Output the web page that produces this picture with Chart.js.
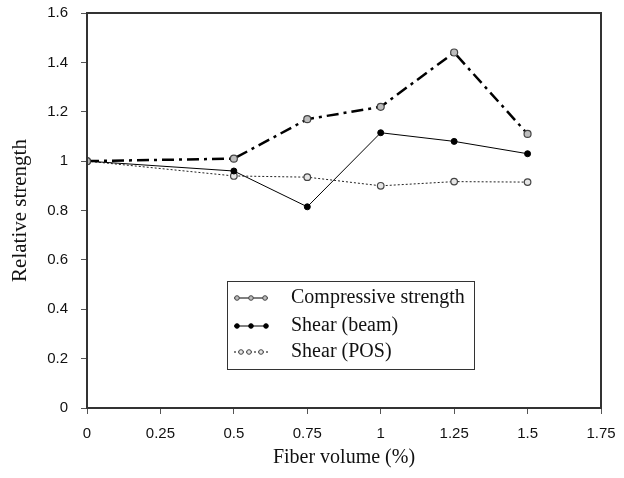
<!DOCTYPE html>
<html>
<head>
<meta charset="utf-8">
<script src="https://cdn.jsdelivr.net/npm/chart.js@4.4.1/dist/chart.umd.min.js"></script>
<style>
  html, body { margin: 0; padding: 0; background: #fff; }
  #wrap { width: 624px; height: 478px; }
</style>
</head>
<body>
<div id="wrap"><canvas id="strengthChart" width="624" height="478"></canvas></div>
<script>
const fiberVolume = [0, 0.5, 0.75, 1, 1.25, 1.5];
const compressive = [1.0, 1.01, 1.17, 1.22, 1.44, 1.11];
const shearBeam = [1.0, 0.96, 0.815, 1.115, 1.08, 1.03];
const shearPOS = [1.0, 0.94, 0.935, 0.90, 0.917, 0.915];
const xTicks = [0, 0.25, 0.5, 0.75, 1, 1.25, 1.5, 1.75];

const toPoints = values => fiberVolume.map((x, i) => ({ x, y: values[i] }));

const seriesStyles = [
  { label: "Compressive strength", data: compressive, borderColor: "#000", borderWidth: 2.5, borderDash: [12, 5, 3, 5],
    pointRadius: 3.5, pointBackgroundColor: "#bdbdbd", pointBorderColor: "#444", pointBorderWidth: 1.2 },
  { label: "Shear (beam)", data: shearBeam, borderColor: "#000", borderWidth: 1, borderDash: [],
    pointRadius: 3, pointBackgroundColor: "#000", pointBorderColor: "#000", pointBorderWidth: 1 },
  { label: "Shear (POS)", data: shearPOS, borderColor: "#222", borderWidth: 1, borderDash: [2, 2],
    pointRadius: 3.3, pointBackgroundColor: "#e6e6e6", pointBorderColor: "#444", pointBorderWidth: 1.2 }
];

// box around plot + legend drawn inside the plot area
const framePlugin = {
  id: "frame",
  afterDraw(chart) {
    const { ctx, chartArea: a } = chart;
    ctx.save();
    ctx.strokeStyle = "#333";
    ctx.lineWidth = 2;
    ctx.strokeRect(a.left, a.top, a.right - a.left, a.bottom - a.top);

    // legend
    const box = { x: 227, y: 281, w: 247, h: 88 };
    ctx.fillStyle = "#fff";
    ctx.fillRect(box.x, box.y, box.w, box.h);
    ctx.strokeStyle = "#333";
    ctx.lineWidth = 1;
    ctx.strokeRect(box.x + 0.5, box.y + 0.5, box.w, box.h);

    const rows = [298, 326, 352];
    const markerX = [[237, 251, 265], [237, 251, 266], [241, 249, 261]];
    seriesStyles.forEach((s, i) => {
      const y = rows[i];
      ctx.beginPath();
      ctx.setLineDash(i === 2 ? [2, 2] : []);
      ctx.strokeStyle = "#000";
      ctx.lineWidth = 1;
      ctx.moveTo(234, y);
      ctx.lineTo(268, y);
      ctx.stroke();
      ctx.setLineDash([]);
      markerX[i].forEach(px => {
        ctx.beginPath();
        ctx.arc(px, y, 2.3, 0, Math.PI * 2);
        ctx.fillStyle = s.pointBackgroundColor;
        ctx.fill();
        ctx.strokeStyle = s.pointBorderColor;
        ctx.stroke();
      });
      ctx.fillStyle = "#111";
      ctx.font = "20px 'Liberation Serif', 'Times New Roman', serif";
      ctx.textBaseline = "middle";
      ctx.fillText(s.label, 291, y);
    });
    ctx.restore();
  }
};

const ctx = document.getElementById("strengthChart").getContext("2d");
new Chart(ctx, {
  type: "line",
  data: {
    datasets: seriesStyles.map(s => ({
      label: s.label,
      data: toPoints(s.data),
      borderColor: s.borderColor,
      borderWidth: s.borderWidth,
      borderDash: s.borderDash,
      pointRadius: s.pointRadius,
      pointBackgroundColor: s.pointBackgroundColor,
      pointBorderColor: s.pointBorderColor,
      pointBorderWidth: s.pointBorderWidth,
      fill: false,
      tension: 0
    }))
  },
  options: {
    responsive: false,
    animation: false,
    layout: { padding: { top: 13, right: 23, left: 0, bottom: 0 } },
    plugins: {
      legend: { display: false },
      tooltip: { enabled: false }
    },
    scales: {
      x: {
        type: "linear",
        min: 0,
        max: 1.75,
        afterBuildTicks: scale => { scale.ticks = xTicks.map(v => ({ value: v })); },
        afterFit: scale => { scale.height = 70; scale.paddingLeft = 0; scale.paddingRight = 0; },
        grid: { drawOnChartArea: false, drawTicks: true, tickLength: 6, color: "#555" },
        border: { display: false },
        ticks: {
          color: "#111",
          padding: 11,
          maxRotation: 0,
          font: { family: "'Liberation Sans', Arial, sans-serif", size: 15 },
          callback: v => String(v)
        },
        title: {
          display: true,
          text: "Fiber volume (%)",
          color: "#111",
          font: { family: "'Liberation Serif', 'Times New Roman', serif", size: 20 },
          padding: { top: 0, bottom: 8 }
        }
      },
      y: {
        min: 0,
        max: 1.6,
        afterFit: scale => { scale.width = 87; scale.paddingTop = 0; scale.paddingBottom = 0; },
        grid: { drawOnChartArea: false, drawTicks: true, tickLength: 6, color: "#555" },
        border: { display: false },
        ticks: {
          stepSize: 0.2,
          color: "#111",
          padding: 13,
          font: { family: "'Liberation Sans', Arial, sans-serif", size: 15 },
          callback: v => String(Math.round(v * 10) / 10)
        },
        title: {
          display: true,
          text: "Relative strength",
          color: "#111",
          font: { family: "'Liberation Serif', 'Times New Roman', serif", size: 21 },
          padding: { top: 8, bottom: 0 }
        }
      }
    }
  },
  plugins: [framePlugin]
});
</script>
</body>
</html>
